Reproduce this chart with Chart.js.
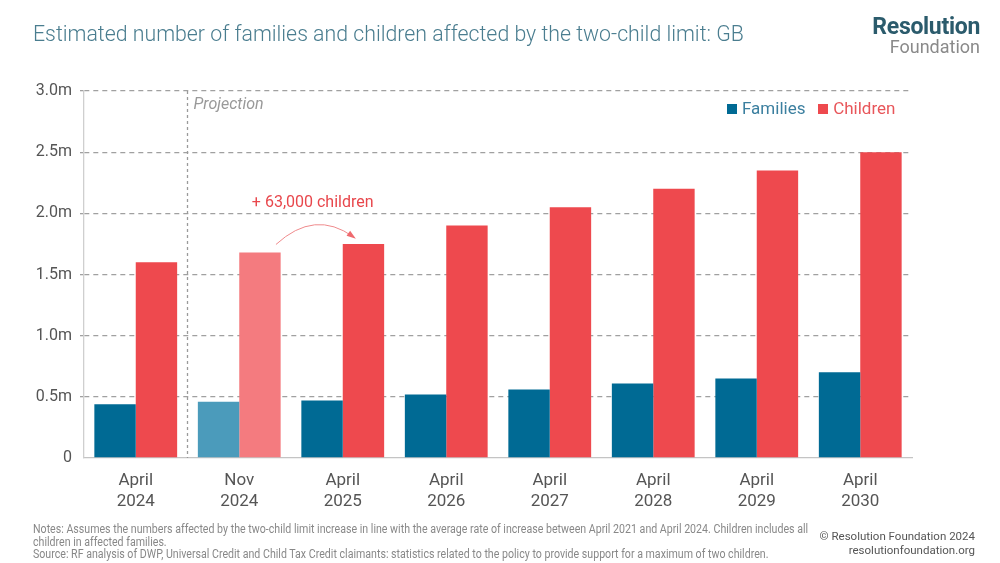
<!DOCTYPE html>
<html>
<head>
<meta charset="utf-8">
<script src="https://cdn.jsdelivr.net/npm/chart.js@4/dist/chart.umd.min.js"></script>
<style>
  html, body { margin: 0; padding: 0; background: #fff; }
  #wrap { position: relative; width: 1000px; height: 563px; overflow: hidden; }
  #chart { position: absolute; left: 0; top: 0; }
  .txt { position: absolute; white-space: nowrap; }
  #title { left: 33px; top: 21px; font: 300 21.3px Roboto, sans-serif; color: #4a7d8f; }
  #logo1 { right: 20px; top: 13px; font: 700 23px Roboto, sans-serif; color: #2b5b6c; letter-spacing: -0.3px; }
  #logo2 { right: 20px; top: 36px; font: 400 18px Roboto, sans-serif; color: #8a8a8a; }
  #legend { left: 727px; top: 98px; font: 400 17px Roboto, sans-serif; }
  #legend span.sw { display: inline-block; width: 10px; height: 10px; margin-right: 5px; }
  #notes { left: 33px; top: 523px; font: 400 12px Roboto, sans-serif; color: #888; line-height: 12.5px;
           transform: scaleX(0.885); transform-origin: left top; }
  #copy { right: 25px; top: 530px; font: 400 11.5px Roboto, sans-serif; color: #555; text-align: right; line-height: 13.5px; }
</style>
</head>
<body>
<div id="wrap">
  <canvas id="chart" width="1000" height="563"></canvas>
  <div class="txt" id="title">Estimated number of families and children affected by the two-child limit: GB</div>
  <div class="txt" id="logo1">Resolution</div>
  <div class="txt" id="logo2">Foundation</div>
  <div class="txt" id="legend"><span class="sw" style="background:#006a94"></span><span style="color:#3b7f9f">Families</span>&nbsp;&nbsp;&nbsp;<span class="sw" style="background:#ee494e"></span><span style="color:#e8565a">Children</span></div>
  <div class="txt" id="notes">Notes: Assumes the numbers affected by the two-child limit increase in line with the average rate of increase between April 2021 and April 2024. Children includes all<br>children in affected families.<br>Source: RF analysis of DWP, Universal Credit and Child Tax Credit claimants: statistics related to the policy to provide support for a maximum of two children.</div>
  <div class="txt" id="copy">© Resolution Foundation 2024<br>resolutionfoundation.org</div>
</div>
<script>
// Data (millions)
const labels = [['April', '2024'], ['Nov', '2024'], ['April', '2025'], ['April', '2026'],
                ['April', '2027'], ['April', '2028'], ['April', '2029'], ['April', '2030']];
const families = [0.44, 0.46, 0.47, 0.52, 0.56, 0.61, 0.65, 0.70];
const children = [1.60, 1.68, 1.75, 1.90, 2.05, 2.20, 2.35, 2.50];
const yTicks = [0, 0.5, 1.0, 1.5, 2.0, 2.5, 3.0];
const annotationText = '+ 63,000 children';
const projectionText = 'Projection';

// Nov 2024 bars drawn in lighter shades
const famColors = labels.map((l, i) => i === 1 ? '#4b9bbb' : '#006a94');
const childColors = labels.map((l, i) => i === 1 ? '#f47b7f' : '#ee494e');

// Projection divider + arrow annotation
const overlayPlugin = {
    id: 'overlay',
    beforeDatasetsDraw(chart) {
        const { ctx, chartArea, scales } = chart;
        const x = (scales.x.getPixelForValue(0) + scales.x.getPixelForValue(1)) / 2;
        ctx.save();
        ctx.strokeStyle = '#9a9a9a';
        ctx.lineWidth = 1.3;
        ctx.setLineDash([3, 3]);
        ctx.beginPath();
        ctx.moveTo(x, chartArea.top);
        ctx.lineTo(x, chartArea.bottom);
        ctx.stroke();
        ctx.setLineDash([]);
        ctx.fillStyle = '#999';
        ctx.font = 'italic 16px Roboto, sans-serif';
        ctx.textBaseline = 'middle';
        ctx.fillText(projectionText, x + 6, chartArea.top + 14);
        ctx.restore();
    },
    afterDatasetsDraw(chart) {
        const { ctx } = chart;
        const meta = chart.getDatasetMeta(1);
        const a = meta.data[1], b = meta.data[2];
        const x0 = a.x + 16, y0 = a.y - 8;
        const x1 = b.x - 10, y1 = b.y - 7;
        const cx = (x0 + x1) / 2, cy = Math.min(y0, y1) - 28;
        ctx.save();
        ctx.strokeStyle = '#ef8a8c';
        ctx.fillStyle = '#ef6a6e';
        ctx.lineWidth = 1;
        ctx.beginPath();
        ctx.moveTo(x0, y0);
        ctx.quadraticCurveTo(cx, cy, x1, y1);
        ctx.stroke();
        const ang = Math.atan2(y1 - cy, x1 - cx);
        ctx.beginPath();
        ctx.moveTo(x1 + 3 * Math.cos(ang), y1 + 3 * Math.sin(ang));
        ctx.lineTo(x1 - 7 * Math.cos(ang - 0.45), y1 - 7 * Math.sin(ang - 0.45));
        ctx.lineTo(x1 - 7 * Math.cos(ang + 0.45), y1 - 7 * Math.sin(ang + 0.45));
        ctx.closePath();
        ctx.fill();
        ctx.fillStyle = '#e8474c';
        ctx.font = '16px Roboto, sans-serif';
        ctx.textAlign = 'center';
        ctx.textBaseline = 'middle';
        ctx.fillText(annotationText, (x0 + x1) / 2 - 2, b.y - 41);
        ctx.restore();
    }
};

new Chart(document.getElementById('chart'), {
    type: 'bar',
    data: {
        labels: labels,
        datasets: [
            { label: 'Families', data: families, backgroundColor: famColors,
              barPercentage: 1.0, categoryPercentage: 0.8 },
            { label: 'Children', data: children, backgroundColor: childColors,
              barPercentage: 1.0, categoryPercentage: 0.8 }
        ]
    },
    options: {
        responsive: false,
        animation: false,
        layout: { padding: { top: 91, right: 88, left: 0, bottom: 0 } },
        plugins: { legend: { display: false }, tooltip: { enabled: false } },
        scales: {
            x: {
                afterFit: s => { s.height = 105; },
                grid: { display: false },
                border: { display: true, color: '#c4c4c4', width: 1.3 },
                ticks: { color: '#555', font: { size: 17, family: 'Roboto' }, padding: 5 }
            },
            y: {
                min: 0, max: 3,
                afterFit: s => { s.width = 84; },
                afterBuildTicks: s => { s.ticks = yTicks.map(v => ({ value: v })); },
                grid: {
                    color: c => c.tick.value === 0 ? 'rgba(0,0,0,0)' : '#a0a0a0',
                    lineWidth: 1.3,
                    tickLength: 4,
                    drawTicks: true
                },
                // in v4 the grid dash lives on border
                border: { display: true, color: '#cfcfcf', width: 1.3, dash: [5, 4] },
                ticks: {
                    color: '#555', font: { size: 16, family: 'Roboto' }, padding: 8,
                    callback: v => v === 0 ? '0' : v.toFixed(1) + 'm'
                }
            }
        }
    },
    plugins: [overlayPlugin]
});
</script>
</body>
</html>
